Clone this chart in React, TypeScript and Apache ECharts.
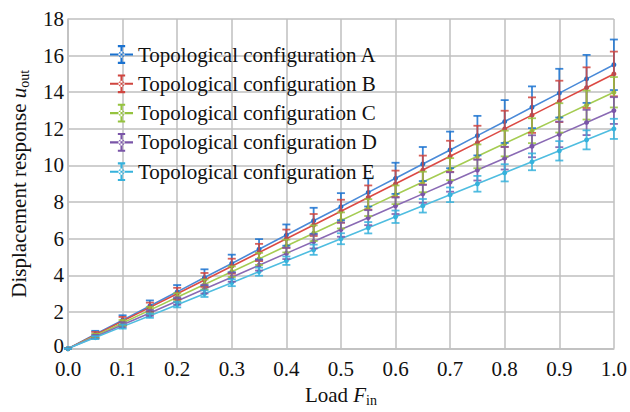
import React, { useEffect, useRef } from "react";
import * as echarts from "echarts";

const loads = [0, 0.05, 0.1, 0.15, 0.2, 0.25, 0.3, 0.35, 0.4, 0.45, 0.5, 0.55, 0.6, 0.65, 0.7, 0.75, 0.8, 0.85, 0.9, 0.95, 1.0];

const seriesNames = [
  "Topological configuration A",
  "Topological configuration B",
  "Topological configuration C",
  "Topological configuration D",
  "Topological configuration E",
];

const valuesA = [0, 0.78, 1.55, 2.33, 3.1, 3.88, 4.65, 5.43, 6.2, 6.98, 7.75, 8.53, 9.3, 10.08, 10.85, 11.63, 12.4, 13.18, 13.95, 14.73, 15.5];
const valuesB = [0, 0.75, 1.5, 2.25, 3.0, 3.75, 4.5, 5.25, 6.0, 6.75, 7.5, 8.25, 9.0, 9.75, 10.5, 11.25, 12.0, 12.75, 13.5, 14.25, 15.0];
const valuesC = [0, 0.7, 1.4, 2.1, 2.8, 3.5, 4.2, 4.9, 5.6, 6.3, 7.0, 7.7, 8.4, 9.1, 9.8, 10.5, 11.2, 11.9, 12.6, 13.3, 14.0];
const valuesD = [0, 0.65, 1.3, 1.95, 2.6, 3.25, 3.9, 4.55, 5.2, 5.85, 6.5, 7.15, 7.8, 8.45, 9.1, 9.75, 10.4, 11.05, 11.7, 12.35, 13.0];
const valuesE = [0, 0.6, 1.2, 1.8, 2.4, 3.0, 3.6, 4.2, 4.8, 5.4, 6.0, 6.6, 7.2, 7.8, 8.4, 9.0, 9.6, 10.2, 10.8, 11.4, 12.0];

const errorsA = [0, 0.19, 0.27, 0.3, 0.37, 0.45, 0.48, 0.55, 0.58, 0.71, 0.74, 0.77, 0.85, 0.93, 1.0, 1.08, 1.17, 1.14, 1.33, 1.31, 1.38];
const errorsB = [0, 0.16, 0.23, 0.26, 0.32, 0.38, 0.41, 0.47, 0.5, 0.6, 0.63, 0.66, 0.72, 0.79, 0.85, 0.92, 0.99, 0.97, 1.13, 1.11, 1.22];
const errorsC = [0, 0.11, 0.16, 0.18, 0.22, 0.27, 0.29, 0.33, 0.35, 0.43, 0.44, 0.46, 0.51, 0.56, 0.6, 0.65, 0.7, 0.68, 0.8, 0.79, 0.83];
const errorsD = [0, 0.1, 0.14, 0.16, 0.2, 0.24, 0.25, 0.29, 0.31, 0.38, 0.39, 0.41, 0.45, 0.49, 0.53, 0.57, 0.62, 0.6, 0.7, 0.69, 0.73];
const errorsE = [0, 0.08, 0.11, 0.12, 0.15, 0.18, 0.19, 0.22, 0.23, 0.28, 0.3, 0.31, 0.34, 0.37, 0.4, 0.43, 0.47, 0.46, 0.53, 0.52, 0.55];

const xTicks = ["0.0", "0.1", "0.2", "0.3", "0.4", "0.5", "0.6", "0.7", "0.8", "0.9", "1.0"];

const allValues = [valuesA, valuesB, valuesC, valuesD, valuesE];
const allErrors = [errorsA, errorsB, errorsC, errorsD, errorsE];
const lineColors = ["#4a8ad8", "#dc4a44", "#a5cc52", "#8a6ab4", "#4fbde0"];
const markColors = ["#1a72d0", "#d0453f", "#95c33e", "#7a55a8", "#36b2dc"];

const FONT = "'Liberation Serif', 'Times New Roman', serif";
const FS = 21;

const legendIcon =
  "path://M0,16 L44,16 L44,20 L0,20 Z M20,3 L24,3 L24,33 L20,33 Z M15,0 L29,0 L29,4 L15,4 Z M15,32 L29,32 L29,36 L15,36 Z M22,12 A6,6 0 1,0 22.01,12 Z";

const nameRich = {
  a: { fontFamily: FONT, fontSize: FS, color: "#111" },
  i: { fontFamily: FONT, fontSize: FS, fontStyle: "italic", color: "#111" },
  s: { fontFamily: FONT, fontSize: 14, color: "#111", padding: [11, 0, 0, 0] },
};

export default function App() {
  const ref = useRef<HTMLDivElement>(null);

  useEffect(() => {
    if (!ref.current) return;
    const chart = echarts.init(ref.current, undefined, { renderer: "svg" });

    const series: any[] = [];
    seriesNames.forEach((name, i) => {
      const vals = allValues[i];
      const errs = allErrors[i];
      series.push({
        name,
        type: "line",
        data: loads.map((x, j) => [x, vals[j]]),
        symbol: "circle",
        symbolSize: 5,
        showSymbol: true,
        lineStyle: { color: lineColors[i], width: 1.6 },
        itemStyle: { color: markColors[i] },
        z: 2,
      });
      series.push({
        name,
        type: "custom",
        data: loads.map((x, j) => [x, vals[j] - errs[j], vals[j] + errs[j]]),
        encode: { x: 0, y: [1, 2] },
        z: 3,
        renderItem: (params: any, api: any) => {
          const x = api.value(0);
          const lo = api.coord([x, api.value(1)]);
          const hi = api.coord([x, api.value(2)]);
          const hw = 4;
          const style = { stroke: markColors[i], lineWidth: 1.8, opacity: 0.85 };
          return {
            type: "group",
            children: [
              { type: "line", shape: { x1: lo[0], y1: lo[1], x2: hi[0], y2: hi[1] }, style },
              { type: "line", shape: { x1: lo[0] - hw, y1: lo[1], x2: lo[0] + hw, y2: lo[1] }, style },
              { type: "line", shape: { x1: hi[0] - hw, y1: hi[1], x2: hi[0] + hw, y2: hi[1] }, style },
            ],
          };
        },
      });
    });

    chart.setOption({
      animation: false,
      backgroundColor: "#ffffff",
      textStyle: { fontFamily: FONT },
      grid: { left: 66, right: 14, top: 19, bottom: 56, show: false },
      legend: {
        data: seriesNames.map((n) => ({ name: n, icon: legendIcon })),
        orient: "vertical",
        left: 105,
        top: 39,
        itemWidth: 23,
        itemHeight: 19,
        itemGap: 8.3,
        textStyle: { fontFamily: FONT, fontSize: FS, color: "#111", lineHeight: 21 },
        selectedMode: false,
      },
      xAxis: {
        type: "value",
        min: 0,
        max: 1,
        interval: 0.1,
        name: "{a|Load }{i|F}{s|in}",
        nameLocation: "middle",
        nameGap: 29,
        nameTextStyle: { color: "#111", rich: nameRich },
        axisLine: { show: true, lineStyle: { color: "#bfbfbf", width: 1.5 } },
        axisTick: { show: false },
        splitLine: { show: true, lineStyle: { color: "#bfbfbf", width: 1.5 } },
        axisLabel: {
          fontFamily: FONT,
          fontSize: FS,
          lineHeight: 18,
          color: "#111",
          margin: 11,
          formatter: (v: number) => xTicks[Math.round(v * 10)],
        },
      },
      yAxis: {
        type: "value",
        min: 0,
        max: 18,
        interval: 2,
        name: "{a|Displacement response }{i|u}{s|out}",
        nameLocation: "middle",
        nameGap: 37,
        nameTextStyle: { color: "#111", rich: nameRich },
        axisLine: { show: true, lineStyle: { color: "#bfbfbf", width: 1.5 } },
        axisTick: { show: false },
        splitLine: { show: true, lineStyle: { color: "#bfbfbf", width: 1.5 } },
        axisLabel: {
          fontFamily: FONT,
          fontSize: FS,
          lineHeight: 16,
          color: "#111",
          margin: 4,
          formatter: (v: number) => (v === 0 ? "{z|0}" : String(v)),
          rich: { z: { fontFamily: FONT, fontSize: FS, color: "#111", lineHeight: 16, padding: [0, 0, 6, 0] } },
        },
      },
      series,
    });

    return () => chart.dispose();
  }, []);

  return <div ref={ref} style={{ width: 630, height: 412, position: "absolute", left: 0, top: 0 }} />;
}
